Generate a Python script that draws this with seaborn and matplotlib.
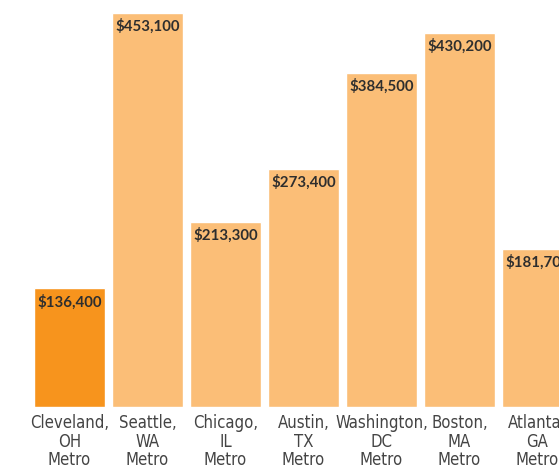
import matplotlib
matplotlib.use("Agg")
import matplotlib.pyplot as plt
import pandas as pd
import seaborn as sns

# Median home values by metro
metros = ["Cleveland", "Seattle", "Chicago", "Austin", "Washington", "Boston", "Atlanta"]
states = ["OH", "WA", "IL", "TX", "DC", "MA", "GA"]
values = [136400, 453100, 213300, 273400, 384500, 430200, 181700]
highlight = ["Cleveland"]

DARK = "#F7941D"
LIGHT = "#FBBE77"

df = pd.DataFrame({"metro": metros, "state": states, "value": values})
df["label"] = df["metro"] + ",\n" + df["state"] + "\nMetro"
df["group"] = ["hi" if m in highlight else "lo" for m in df["metro"]]

sns.set_style("white")

fig = plt.figure(figsize=(5.59, 4.69), dpi=100)
ax = fig.add_axes([0, 62 / 469, 1, 407 / 469])

sns.barplot(data=df, x="label", y="value", hue="group",
            palette={"hi": DARK, "lo": LIGHT}, width=71 / 78,
            dodge=False, legend=False, saturation=1, ax=ax)

# value labels inside the top of each bar
for i, v in enumerate(df["value"]):
    ax.annotate(f"${v:,}", xy=(i, v), xytext=(0, -9.6), textcoords="offset points",
                ha="center", va="center", fontsize=10.8, fontweight="bold",
                family="Lato", color="#2e2e2e", annotation_clip=False)

ax.set_xlim(-69.5 / 78, (559 - 69.5) / 78)
ax.set_ylim(0, 453100 * 407 / 394)
ax.set_xlabel("")
ax.set_ylabel("")
ax.set_yticks([])
for s in ax.spines.values():
    s.set_visible(False)
ax.set_xticks(range(len(df)))
ax.set_xticklabels(df["label"], family="DejaVu Sans", fontstretch="condensed",
                   fontsize=12, color="#444444", linespacing=1.04)
ax.tick_params(axis="x", length=0, pad=5)

fig.savefig("out.png", dpi=100)
